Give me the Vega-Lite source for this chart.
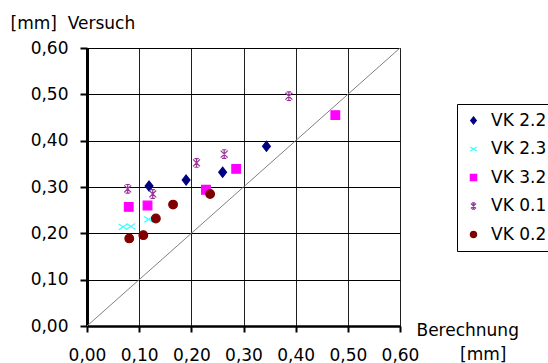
{
  "$schema": "https://vega.github.io/schema/vega-lite/v6.json",
  "width": 313,
  "height": 278,
  "autosize": "none",
  "padding": {"left": 87, "top": 48, "right": 148, "bottom": 37},
  "background": "white",
  "title": {
    "text": "[mm]",
    "orient": "bottom",
    "anchor": "start",
    "frame": "group",
    "dx": 373,
    "offset": -16,
    "font": "DejaVu Sans",
    "fontSize": 17,
    "fontWeight": "normal",
    "color": "#000000"
  },
  "config": {
    "view": {"stroke": "#a0a0a0", "strokeWidth": 1},
    "font": "DejaVu Sans",
    "legend": {
      "title": null,
      "orient": "none",
      "legendX": 370,
      "legendY": 56,
      "strokeColor": "#000000",
      "fillColor": "white",
      "padding": 8,
      "labelFont": "DejaVu Sans",
      "labelFontSize": 17,
      "labelColor": "#000000",
      "labelOffset": 9,
      "labelLimit": 300,
      "rowPadding": 10.5,
      "symbolSize": 40,
      "symbolStrokeWidth": 1.2
    }
  },
  "encoding": {
    "x": {
      "field": "x",
      "type": "quantitative",
      "scale": {"domain": [0, 0.6], "nice": false, "zero": true},
      "axis": {
        "values": [0, 0.1, 0.2, 0.3, 0.4, 0.5, 0.6],
        "labelExpr": "replace(format(datum.value, '.2f'), '.', ',')",
        "labelFont": "DejaVu Sans",
        "labelFontSize": 17,
        "labelColor": "#000000",
        "labelPadding": 15,
        "labelFlush": false,
        "labelOverlap": false,
        "tickSize": 6,
        "tickWidth": 2,
        "tickColor": "#000000",
        "domainColor": "#000000",
        "domainWidth": 2.5,
        "grid": true,
        "gridColor": "#202020",
        "gridWidth": 1,
        "gridOpacity": 1,
        "title": "Berechnung",
        "titleFont": "DejaVu Sans",
        "titleFontSize": 17,
        "titleFontWeight": "normal",
        "titleColor": "#000000",
        "titleAlign": "left",
        "titleBaseline": "alphabetic",
        "titleX": 329,
        "titleY": 9
      }
    },
    "y": {
      "field": "y",
      "type": "quantitative",
      "scale": {"domain": [0, 0.6], "nice": false, "zero": true},
      "axis": {
        "values": [0, 0.1, 0.2, 0.3, 0.4, 0.5, 0.6],
        "labelExpr": "replace(format(datum.value, '.2f'), '.', ',')",
        "labelFont": "DejaVu Sans",
        "labelFontSize": 17,
        "labelColor": "#000000",
        "labelPadding": 12,
        "labelFlush": false,
        "labelOverlap": false,
        "tickSize": 7,
        "tickWidth": 2,
        "tickColor": "#000000",
        "domainColor": "#000000",
        "domainWidth": 3,
        "grid": true,
        "gridColor": "#000000",
        "gridWidth": 1,
        "gridOpacity": 1,
        "title": "[mm]\u00a0\u00a0Versuch",
        "titleFont": "DejaVu Sans",
        "titleFontSize": 17,
        "titleFontWeight": "normal",
        "titleColor": "#000000",
        "titleAngle": 0,
        "titleAlign": "left",
        "titleBaseline": "alphabetic",
        "titleX": -77,
        "titleY": -20
      }
    }
  },
  "layer": [
    {
      "data": {"values": [{"x": 0, "y": 0}, {"x": 0.6, "y": 0.6}]},
      "mark": {"type": "line", "color": "#808080", "strokeWidth": 1},
      "encoding": {}
    },
    {
      "data": {
        "values": [
          {"series": "VK 2.2", "x": 0.119, "y": 0.302},
          {"series": "VK 2.2", "x": 0.190, "y": 0.315},
          {"series": "VK 2.2", "x": 0.260, "y": 0.332},
          {"series": "VK 2.2", "x": 0.344, "y": 0.388},
          {"series": "VK 2.3", "x": 0.069, "y": 0.214},
          {"series": "VK 2.3", "x": 0.084, "y": 0.215},
          {"series": "VK 2.3", "x": 0.118, "y": 0.230},
          {"series": "VK 3.2", "x": 0.080, "y": 0.257},
          {"series": "VK 3.2", "x": 0.116, "y": 0.260},
          {"series": "VK 3.2", "x": 0.228, "y": 0.294},
          {"series": "VK 3.2", "x": 0.286, "y": 0.339},
          {"series": "VK 3.2", "x": 0.476, "y": 0.455},
          {"series": "VK 0.1", "x": 0.078, "y": 0.296},
          {"series": "VK 0.1", "x": 0.126, "y": 0.285},
          {"series": "VK 0.1", "x": 0.210, "y": 0.352},
          {"series": "VK 0.1", "x": 0.263, "y": 0.371},
          {"series": "VK 0.1", "x": 0.387, "y": 0.496},
          {"series": "VK 0.2", "x": 0.081, "y": 0.189},
          {"series": "VK 0.2", "x": 0.108, "y": 0.196},
          {"series": "VK 0.2", "x": 0.132, "y": 0.232},
          {"series": "VK 0.2", "x": 0.165, "y": 0.262},
          {"series": "VK 0.2", "x": 0.236, "y": 0.285}
        ]
      },
      "mark": {"type": "point", "size": 75, "strokeWidth": 1.2, "opacity": 1},
      "encoding": {
        "stroke": {
          "field": "series",
          "type": "nominal",
          "scale": {
            "domain": ["VK 2.2", "VK 2.3", "VK 3.2", "VK 0.1", "VK 0.2"],
            "range": ["#000080", "#33ffff", "#ff00ff", "#993399", "#800000"]
          },
          "legend": {"labelExpr": "datum.label + '\u00a0\u00a0\u00a0\u00a0'"}
        },
        "fill": {
          "field": "series",
          "type": "nominal",
          "scale": {
            "domain": ["VK 2.2", "VK 2.3", "VK 3.2", "VK 0.1", "VK 0.2"],
            "range": ["#000080", "transparent", "#ff00ff", "transparent", "#800000"]
          },
          "legend": {"labelExpr": "datum.label + '\u00a0\u00a0\u00a0\u00a0'"}
        },
        "shape": {
          "field": "series",
          "type": "nominal",
          "scale": {
            "domain": ["VK 2.2", "VK 2.3", "VK 3.2", "VK 0.1", "VK 0.2"],
            "range": [
              "M0,-1.15L0.9,0L0,1.15L-0.9,0Z",
              "M-1,-0.65L1,0.65M-1,0.65L1,-0.65",
              "square",
              "M-0.8,-0.8L0.8,0.8M-0.8,0.8L0.8,-0.8M0,-1L0,1M-0.5,-1L0.5,-1M-0.5,1L0.5,1",
              "circle"
            ]
          },
          "legend": {"labelExpr": "datum.label + '\u00a0\u00a0\u00a0\u00a0'"}
        }
      }
    }
  ]
}
